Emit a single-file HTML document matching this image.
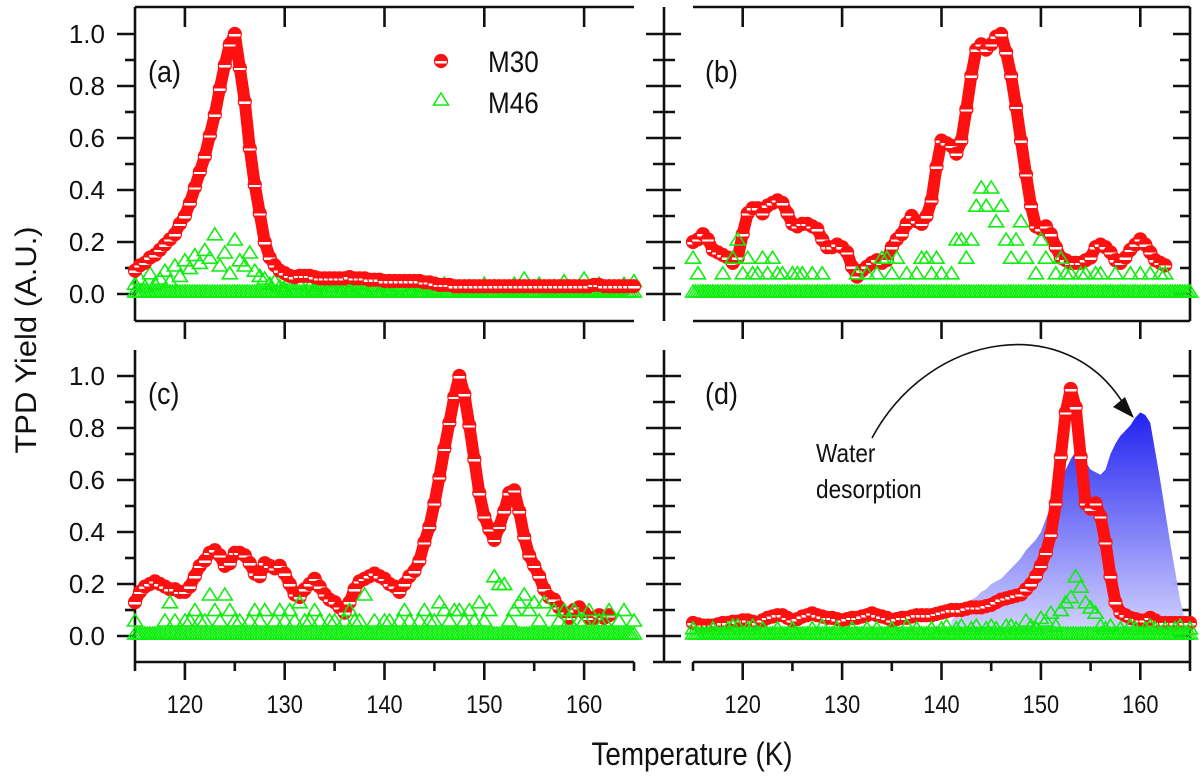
<!DOCTYPE html>
<html><head><meta charset="utf-8"><style>
html,body{margin:0;padding:0;background:#fff;}
svg{display:block;}
text{font-family:"Liberation Sans",sans-serif;fill:#111;}
</style></head>
<body>
<svg id="chart" width="1200" height="779" viewBox="0 0 1200 779" xmlns="http://www.w3.org/2000/svg">
<defs>
<linearGradient id="half" x1="0" y1="0" x2="0" y2="1">
<stop offset="0" stop-color="#ff1010"/><stop offset="0.5" stop-color="#ff1010"/>
<stop offset="0.5" stop-color="#ffffff"/><stop offset="0.68" stop-color="#ffffff"/>
<stop offset="0.68" stop-color="#ff1010"/><stop offset="1" stop-color="#ff1010"/>
</linearGradient>
<linearGradient id="waterGrad" gradientUnits="userSpaceOnUse" x1="0" y1="415" x2="0" y2="636">
<stop offset="0" stop-color="#1818f0"/><stop offset="1" stop-color="#d4d4ff"/>
</linearGradient>
</defs>
<g id="axes"></g>
<g id="marks"></g>
<g id="labels"></g>
</svg>
<script>
// ---- data (temperature step 0.5 K starting at 115 K) ----
const tStart = 115;
const tStep = 0.5;
const xTicks = [120, 130, 140, 150, 160];
const yTicks = [0, 0.2, 0.4, 0.6, 0.8, 1.0];
const yTickLabels = ["0.0", "0.2", "0.4", "0.6", "0.8", "1.0"];

const a_M30 = [0.09,0.11,0.12,0.14,0.15,0.17,0.19,0.21,0.23,0.27,
0.30,0.35,0.41,0.47,0.53,0.61,0.69,0.79,0.88,0.96,
1.00,0.87,0.74,0.56,0.42,0.31,0.20,0.14,0.11,0.09,
0.08,0.07,0.065,0.07,0.07,0.07,0.065,0.06,0.06,0.06,
0.06,0.06,0.06,0.065,0.06,0.06,0.06,0.055,0.055,0.055,
0.05,0.05,0.05,0.05,0.05,0.05,0.05,0.05,0.045,0.045,
0.04,0.035,0.035,0.035,0.03,0.03,0.03,0.03,0.03,0.03,
0.03,0.03,0.03,0.03,0.03,0.03,0.03,0.03,0.03,0.03,
0.03,0.03,0.03,0.03,0.03,0.03,0.03,0.03,0.03,0.03,
0.03,0.03,0.035,0.035,0.03,0.03,0.03,0.03,0.03,0.03,0.03];
const a_M46 = [0.03,0.05,0.02,0.07,0.03,0.05,0.08,0.04,0.1,0.06,
0.12,0.09,0.14,0.11,0.16,0.13,0.22,0.1,0.15,0.07,
0.2,0.12,0.1,0.15,0.08,0.06,0.05,0.03,0.04,0.02,
0.01,0.05,0,0.03,0,0.02,0.01,0.03,0,0.02,
0.04,0,0.02,0.01,0,0.03,0.01,0,0.02,0,
0.03,0.01,0,0.02,0,0.01,0.03,0,0.02,0,
0.01,0,0.03,0.02,0,0.01,0,0.02,0,0.01,
0.03,0,0.02,0,0.01,0,0.03,0.01,0.05,0.02,
0,0.03,0,0.01,0.02,0,0.04,0.01,0,0.02,
0.05,0.01,0,0.03,0.01,0.02,0,0.01,0.03,0,0.04];

const b_M30 = [0.20,0.21,0.23,0.21,0.17,0.16,0.15,0.14,0.12,0.14,
0.23,0.31,0.33,0.33,0.31,0.34,0.35,0.36,0.35,0.31,
0.27,0.26,0.27,0.27,0.26,0.25,0.21,0.18,0.18,0.19,
0.18,0.16,0.105,0.067,0.09,0.105,0.12,0.13,0.12,0.13,
0.18,0.21,0.23,0.27,0.30,0.28,0.27,0.30,0.36,0.49,
0.59,0.58,0.57,0.54,0.59,0.71,0.84,0.94,0.96,0.94,
0.96,0.99,1.00,0.93,0.84,0.72,0.59,0.46,0.34,0.26,
0.25,0.26,0.23,0.18,0.14,0.13,0.12,0.12,0.12,0.13,
0.14,0.18,0.19,0.18,0.16,0.13,0.12,0.14,0.17,0.19,
0.21,0.19,0.16,0.13,0.12,0.11];
const b_M46 = [0.13,0.07,0,0,0,0,0.07,0,0.13,0.2,
0.07,0.13,0.07,0.07,0.13,0.07,0.13,0.07,0.07,0,
0.07,0.07,0.07,0,0.07,0,0.07,0,0,0,
0,0,0,0.07,0,0.07,0,0.07,0.13,0.13,
0.07,0.13,0,0.07,0,0.07,0.13,0.13,0.07,0.13,
0.07,0,0.07,0.2,0.2,0.13,0.2,0.33,0.4,0.33,
0.4,0.27,0.33,0.2,0.13,0.2,0.27,0.13,0,0.07,
0.2,0.13,0,0.07,0.13,0.07,0.07,0,0.07,0.07,
0,0.07,0.07,0,0,0.07,0,0,0.07,0,
0.07,0,0.07,0,0.07,0.07,0,0,0,0,0];

const c_M30 = [0.13,0.17,0.19,0.20,0.21,0.20,0.19,0.18,0.18,0.17,
0.17,0.19,0.23,0.27,0.29,0.32,0.33,0.31,0.27,0.28,
0.32,0.32,0.31,0.28,0.24,0.23,0.28,0.27,0.26,0.27,
0.24,0.20,0.16,0.15,0.18,0.20,0.22,0.19,0.16,0.14,
0.13,0.11,0.09,0.13,0.18,0.21,0.22,0.23,0.24,0.23,
0.22,0.20,0.19,0.17,0.20,0.23,0.25,0.29,0.36,0.42,
0.51,0.61,0.72,0.82,0.92,1.00,0.93,0.81,0.68,0.55,
0.46,0.41,0.37,0.42,0.48,0.55,0.56,0.48,0.38,0.31,
0.27,0.23,0.18,0.15,0.14,0.11,0.09,0.07,0.10,0.11,
0.09,0.07,0.07,0.08,0.07,0.08];
const c_M46 = [0.05,0,0,0,0,0,0.05,0.12,0.05,0,
0.05,0.05,0.09,0.05,0.05,0.15,0.09,0.05,0.15,0.09,
0.05,0.05,0,0.05,0.09,0.05,0.09,0,0.05,0.09,
0.05,0.09,0.05,0.12,0.05,0.05,0.09,0.05,0,0.05,
0.05,0,0.05,0.09,0.05,0.05,0.15,0,0.05,0,
0.05,0.05,0,0.05,0.09,0.05,0,0.05,0.09,0.05,
0.05,0.12,0.09,0.05,0.09,0.09,0.05,0.09,0.05,0.12,
0.05,0.09,0.22,0.19,0.19,0.05,0.09,0.12,0.15,0.09,
0.12,0.05,0.12,0,0.09,0.05,0.09,0.05,0.09,0.05,
0.05,0.09,0,0.05,0.05,0.09,0,0.05,0.09,0,0.05];

const d_M30 = [0.05,0.045,0.04,0.04,0.04,0.045,0.05,0.05,0.055,0.055,
0.06,0.06,0.055,0.05,0.06,0.07,0.075,0.08,0.08,0.07,
0.06,0.065,0.075,0.08,0.087,0.08,0.075,0.07,0.07,0.065,
0.06,0.065,0.07,0.07,0.075,0.08,0.087,0.08,0.075,0.07,
0.06,0.065,0.07,0.07,0.075,0.08,0.08,0.08,0.08,0.085,
0.09,0.095,0.10,0.10,0.10,0.105,0.11,0.11,0.11,0.115,
0.12,0.13,0.14,0.145,0.15,0.155,0.16,0.18,0.20,0.23,
0.27,0.32,0.39,0.51,0.69,0.86,0.95,0.88,0.69,0.51,
0.49,0.51,0.46,0.36,0.23,0.13,0.09,0.08,0.07,0.065,
0.06,0.06,0.07,0.06,0.05,0.05,0.05,0.05,0.05,0.05,0.05];
const d_M46 = [0.02,0,0,0,0.02,0,0,0.02,0.03,0.03,
0,0.02,0.03,0,0.02,0,0,0.02,0,0,
0.02,0,0,0,0.02,0,0.03,0,0,0.02,
0,0,0.02,0,0,0.02,0,0.02,0,0,
0.02,0,0,0.03,0,0.02,0,0,0.02,0,
0.02,0.03,0,0.02,0.03,0,0.02,0.03,0,0.02,
0.03,0.02,0,0.03,0.03,0.02,0,0.05,0.03,0.02,
0.06,0.05,0.08,0.03,0.09,0.12,0.14,0.22,0.18,0.12,
0.1,0.08,0.03,0.02,0.03,0,0.02,0,0.03,0.02,
0,0.02,0.03,0.02,0,0.02,0,0.02,0.03,0,0.02];

// water desorption trace (panel d), starting at 141 K, step 0.5 K
const waterStart = 141;
const waterVals = [0.06,0.08,0.1,0.12,0.14,0.15,0.17,0.18,0.2,0.21,
0.22,0.24,0.26,0.28,0.3,0.33,0.35,0.37,0.4,0.45,
0.5,0.55,0.6,0.64,0.68,0.71,0.7,0.67,0.64,0.63,
0.62,0.64,0.7,0.74,0.77,0.79,0.81,0.84,0.86,0.85,
0.82,0.71,0.6,0.48,0.36,0.25,0.14,0.06,0.02];

const NS = "http://www.w3.org/2000/svg";
const axesG = document.getElementById('axes');
const marksG = document.getElementById('marks');
const labelsG = document.getElementById('labels');

function mk(tag, attrs, parent) {
  const e = document.createElementNS(NS, tag);
  for (const k in attrs) e.setAttribute(k, attrs[k]);
  parent.appendChild(e);
  return e;
}
function line(x1, y1, x2, y2, name) {
  const e = mk('line', {x1: x1, y1: y1, x2: x2, y2: y2, stroke: '#111', 'stroke-width': 2.6}, axesG);
  
  
  return e;
}
function text(str, x, y, size, anchor, name, sx) {
  const e = mk('text', {transform: 'translate(' + x + ',' + y + ') scale(' + (sx || 0.87) + ',1)', 'font-size': size, 'text-anchor': anchor}, labelsG);
  e.textContent = str;
  
  
  return e;
}

const panels = {
  a: {x0: 135, x1: 634, y0: 294, y1: 34},
  b: {x0: 693, x1: 1190, y0: 294, y1: 34},
  c: {x0: 135, x1: 634, y0: 636, y1: 376},
  d: {x0: 693, x1: 1190, y0: 636, y1: 376}
};
function xs(p, t) { return p.x0 + (t - 115) / 50 * (p.x1 - p.x0); }
function ys(p, v) { return p.y0 + v * (p.y1 - p.y0); }

// ---- axes ----
function drawAxes(key, opt) {
  const p = panels[key];
  const top = opt.top, bottom = opt.bottom;
  if (opt.leftLabels) {
    line(p.x0, top, p.x0, bottom, 'y-axis-line-' + key);
    for (let v = 0; v <= 10; v++) {
      const y = ys(p, v / 10);
      line(v % 2 === 0 ? p.x0 - 18 : p.x0 - 10, y, p.x0, y, 'y-tick-' + key);
    }
    yTicks.forEach((v, i) => text(yTickLabels[i], 105, ys(p, v) + 9, 26, 'end', 'y-tick-label', 1));
  } else {
    const ax = 664;
    line(ax, top, ax, bottom, 'y-axis-line-' + key);
    for (let v = 0; v <= 10; v++) {
      const y = ys(p, v / 10);
      if (v % 2 === 0) line(ax - 18, y, ax + 17, y, 'y-tick-' + key);
      else line(ax - 11, y, ax + 11, y, 'y-tick-' + key);
    }
    line(p.x1, top, p.x1, bottom, 'right-frame-' + key);
    for (let v = 0; v <= 10; v++) {
      const y = ys(p, v / 10);
      line(v % 2 === 0 ? p.x1 - 17 : p.x1 - 10, y, p.x1, y, 'right-tick-' + key);
    }
  }
  line(p.x0, bottom, p.x1, bottom, 'x-axis-line-' + key);
  xTicks.forEach(t => line(xs(p, t), bottom, xs(p, t), bottom + 18, 'x-tick-' + key));
  if (opt.minorX) {
    for (let t = 115; t <= 165; t += 10) line(xs(p, t), bottom, xs(p, t), bottom + 9, 'x-minor-tick-' + key);
  }
  if (opt.xLabels) xTicks.forEach(t => text(String(t), xs(p, t), 713, 25, 'middle', 'x-tick-label'));
  if (opt.topFrame) {
    line(p.x0, top, p.x1, top, 'top-frame-' + key);
    xTicks.forEach(t => line(xs(p, t), top, xs(p, t), top + 20, 'top-tick-' + key));
  }
}
drawAxes('a', {top: 7, bottom: 321, leftLabels: true, topFrame: true});
drawAxes('b', {top: 7, bottom: 321, leftLabels: false, topFrame: true});
drawAxes('c', {top: 350, bottom: 662, leftLabels: true, minorX: true, xLabels: true});
drawAxes('d', {top: 350, bottom: 662, leftLabels: false, minorX: true, xLabels: true});
line(653, 662, 681, 662, 'axis-foot-d');

// ---- water area (panel d) ----
(function () {
  const p = panels.d;
  let dStr = 'M' + xs(p, waterStart) + ',' + ys(p, 0.02);
  waterVals.forEach((v, i) => { dStr += ' L' + xs(p, waterStart + i * tStep) + ',' + ys(p, v); });
  dStr += ' L' + xs(p, waterStart + (waterVals.length - 1) * tStep) + ',' + ys(p, 0.02) + ' Z';
  const area = mk('path', {d: dStr, fill: 'url(#waterGrad)', 'fill-opacity': 0.95, stroke: 'none'}, marksG);
  
  
})();

// ---- markers ----
function triPts(x, y) { return (x) + ',' + (y - 7) + ' ' + (x + 7.5) + ',' + (y + 5) + ' ' + (x - 7.5) + ',' + (y + 5); }
function drawTris(key, vals) {
  const p = panels[key];
  const g = mk('g', {}, marksG);
  
  
  // dense noise floor row at zero (instrument baseline)
  for (let t = 115; t <= 165.01; t += 0.25) {
    const f = mk('polygon', {points: triPts(xs(p, t), ys(p, 0) - 2), fill: 'none', stroke: '#10ee10', 'stroke-width': 1.5}, g);
    
    
  }
  vals.forEach((v, i) => {
    const t = mk('polygon', {points: triPts(xs(p, tStart + i * tStep), ys(p, v) - 2), fill: 'none', stroke: '#10ee10', 'stroke-width': 1.6}, g);
    
    
  });
}
function drawCircles(key, vals) {
  const p = panels[key];
  const g = mk('g', {}, marksG);
  
  
  const pts = vals.map((v, i) => xs(p, tStart + i * tStep) + ',' + ys(p, v)).join(' ');
  const band = mk('polyline', {points: pts, fill: 'none', stroke: '#ff1010', 'stroke-width': 12, 'stroke-linejoin': 'round', 'stroke-linecap': 'round'}, g);
  
  
  vals.forEach((v, i) => {
    const c = mk('circle', {cx: xs(p, tStart + i * tStep), cy: ys(p, v), r: 6.5, fill: 'url(#half)', stroke: '#ff1010', 'stroke-width': 1.2}, g);
    
    
  });
}
drawTris('a', a_M46); drawCircles('a', a_M30);
drawCircles('b', b_M30); drawTris('b', b_M46);
drawCircles('c', c_M30); drawTris('c', c_M46);
drawCircles('d', d_M30); drawTris('d', d_M46);

// ---- arrow ----
const arrow = mk('path', {d: 'M872,438 C930,330 1070,310 1126,408', fill: 'none', stroke: '#111', 'stroke-width': 1.6}, labelsG);


const head = mk('polygon', {points: '1134,418 1113,407 1125,397', fill: '#111'}, labelsG);



// ---- legend ----
const lc = mk('circle', {cx: 441, cy: 61, r: 6.5, fill: 'url(#half)', stroke: '#ff1010', 'stroke-width': 1.2}, labelsG);


const lt = mk('polygon', {points: triPts(441, 100), fill: 'none', stroke: '#10ee10', 'stroke-width': 1.6}, labelsG);


text('M30', 488, 72, 30, 'start', 'legend-m30-label');
text('M46', 488, 113, 30, 'start', 'legend-m46-label');

// ---- panel labels & titles ----
text('(a)', 148, 82, 31, 'start', 'panel-label-a');
text('(b)', 705, 82, 31, 'start', 'panel-label-b');
text('(c)', 148, 404, 31, 'start', 'panel-label-c');
text('(d)', 705, 404, 31, 'start', 'panel-label-d');
text('Water', 816, 462, 26, 'start', 'annotation-water');
text('desorption', 816, 498, 26, 'start', 'annotation-desorption');
text('Temperature (K)', 692, 765, 32, 'middle', 'x-axis-title');
const yt = mk('text', {transform: 'translate(36,340) rotate(-90) scale(1,0.95)', 'font-size': 31, 'text-anchor': 'middle'}, labelsG);
yt.textContent = 'TPD Yield (A.U.)';


</script>
</body></html>
